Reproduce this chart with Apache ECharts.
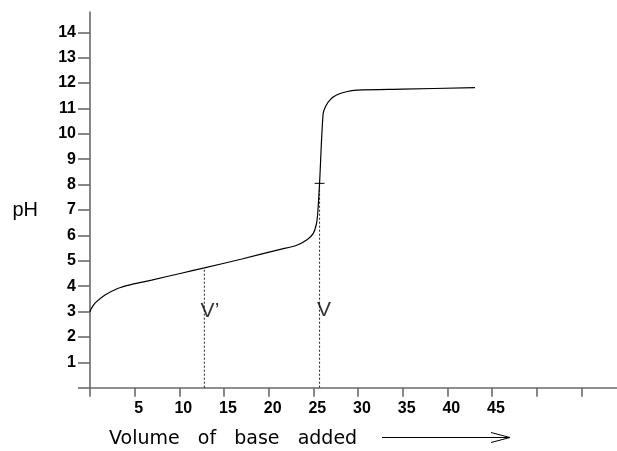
<!DOCTYPE html>
<html>
<head>
<meta charset="utf-8">
<script src="https://cdn.jsdelivr.net/npm/echarts@6/dist/echarts.min.js"></script>
<style>
html,body{margin:0;padding:0;background:#fff;}
#chart{width:617px;height:451px;}
</style>
</head>
<body>
<div id="chart"></div>
<script>
// Titration curve
const volume = [0, 0.15, 0.56, 1.68, 3.17, 4.66, 6.9, 10.1, 12.8, 17, 21.3, 23.0, 24.3, 25.0, 25.35, 25.5, 25.7, 26.1, 26.4, 26.9, 27.6, 28.7, 29.9, 35, 43.1];
const pHValues = [2.99, 3.12, 3.33, 3.65, 3.92, 4.07, 4.24, 4.5, 4.72, 5.07, 5.45, 5.59, 5.83, 6.08, 6.45, 6.9, 8.05, 10.8, 11.1, 11.35, 11.53, 11.66, 11.72, 11.76, 11.82];

// Marked volumes
const halfEqVolume = 12.8, halfEqPH = 4.72;
const eqVolume = 25.7, eqPH = 8.05;
const markerNames = ['V\u2019', 'V'];
const markerX = [13.43, 26.2];
const markerY = [3.02, 3.04];

// Axis ticks and labels
const xTickValues = [0, 5, 10, 15, 20, 25, 30, 35, 40, 45, 50, 55];
const xLabelValues = [5, 10, 15, 20, 25, 30, 35, 40, 45];
const yTickValues = [0, 1, 2, 3, 4, 5, 6, 7, 8, 9, 10, 11, 12, 13, 14];
const yLabelValues = [1, 2, 3, 4, 5, 6, 7, 8, 9, 10, 11, 12, 13, 14];

const curve = volume.map((v, i) => [v, pHValues[i]]);
const axisColor = '#6a6a6a';
const tickFont = { fontFamily: 'Liberation Sans, Arial, sans-serif', fontSize: 16, fontWeight: 'bold', color: '#000' };

const chart = echarts.init(document.getElementById('chart'), null, { renderer: 'canvas' });
chart.setOption({
  animation: false,
  backgroundColor: '#fff',
  grid: { left: 90, top: 12, right: 0, bottom: 63.3, containLabel: false },
  xAxis: {
    type: 'value', min: 0, max: 59,
    splitLine: { show: false },
    axisLine: { show: true, lineStyle: { color: axisColor, width: 1.6 } },
    axisTick: { show: true, length: 9, customValues: xTickValues, lineStyle: { color: axisColor, width: 1.6 } },
    axisLabel: Object.assign({ show: true, margin: 13, customValues: xLabelValues, padding: [0, 0, 0, 8] }, tickFont)
  },
  yAxis: {
    type: 'value', min: 0, max: 14.8,
    splitLine: { show: false },
    axisLine: { show: true, lineStyle: { color: axisColor, width: 1.6 } },
    axisTick: { show: true, length: 12, customValues: yTickValues, lineStyle: { color: axisColor, width: 1.6 } },
    axisLabel: Object.assign({ show: true, margin: 14, customValues: yLabelValues, verticalAlign: 'middle', padding: [0, 0, 10, 0] }, tickFont)
  },
  series: [
    {
      type: 'line', data: [[halfEqVolume, 0], [halfEqVolume, halfEqPH]], symbol: 'none', z: 3,
      lineStyle: { color: '#222', width: 1, type: [2, 2] }
    },
    {
      type: 'line', data: [[eqVolume, 0], [eqVolume, eqPH]], symbol: 'none', z: 3,
      lineStyle: { color: '#222', width: 1, type: [2, 2] }
    },
    {
      type: 'line', data: [[eqVolume - 0.55, eqPH], [eqVolume + 0.55, eqPH]], symbol: 'none', z: 4,
      lineStyle: { color: '#000', width: 1 }
    },
    {
      type: 'line', data: curve, symbol: 'none', smooth: 0.3, z: 5,
      lineStyle: { color: '#000', width: 1.2 }
    },
    {
      type: 'scatter', symbolSize: 0, z: 6,
      data: markerNames.map((n, i) => ({ name: n, value: [markerX[i], markerY[i]] })),
      label: { show: true, position: 'inside', formatter: p => p.name,
        fontFamily: 'Liberation Sans, Arial, sans-serif', fontSize: 21, color: '#000' }
    }
  ],
  graphic: [
    { type: 'text', x: 12.5, y: 210,
      style: { text: 'pH', font: '20px "Liberation Sans", Arial, sans-serif', fill: '#000', verticalAlign: 'middle' } },
    { type: 'text', left: 109, top: 430,
      style: { text: 'Volume   of   base   added', font: '19px "DejaVu Sans", sans-serif', fill: '#000' } },
    { type: 'line', shape: { x1: 382, y1: 437.5, x2: 509, y2: 437.5 }, style: { stroke: '#000', lineWidth: 1 } },
    { type: 'polyline', shape: { points: [[491, 432.5], [510, 437.5], [491, 442.5]] }, style: { stroke: '#000', lineWidth: 1, fill: null } }
  ]
});
</script>
</body>
</html>
